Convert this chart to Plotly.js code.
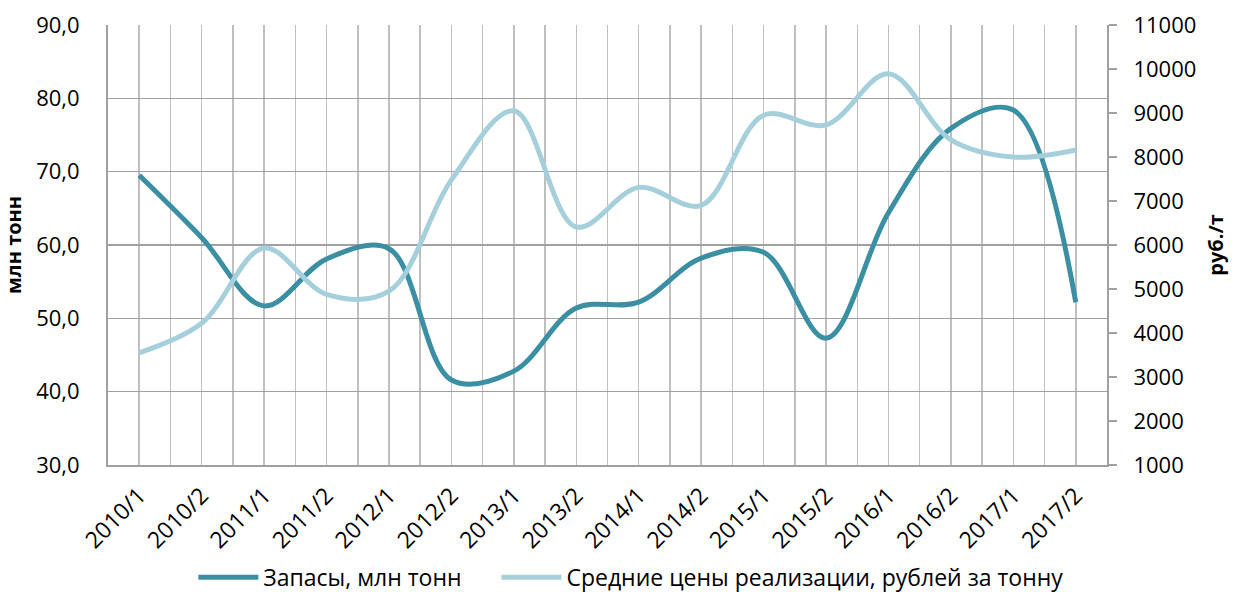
<!DOCTYPE html>
<html><head><meta charset="utf-8">
<script src="https://cdn.plot.ly/plotly-3.0.1.min.js"></script>
<style>html,body{margin:0;padding:0;background:#fff;}#chart{width:1237px;height:592px;}</style>
</head><body><div id="chart"></div>
<script>
const categories = ["2010/1","2010/2","2011/1","2011/2","2012/1","2012/2","2013/1","2013/2","2014/1","2014/2","2015/1","2015/2","2016/1","2016/2","2017/1","2017/2"];
const stocks = [69.5, 61.0, 51.7, 58.1, 59.5, 41.6, 42.8, 51.4, 52.2, 58.2, 59.0, 47.3, 64.4, 75.9, 78.4, 52.2];
const prices = [3550, 4220, 5930, 4880, 4950, 7480, 9050, 6410, 7310, 6900, 8950, 8730, 9890, 8390, 8000, 8160];
const leftTicks = [30,40,50,60,70,80,90];
const rightTicks = [1000,2000,3000,4000,5000,6000,7000,8000,9000,10000,11000];
const seriesNames = ["Запасы, млн тонн", "Средние цены реализации, рублей за тонну"];

const idx = categories.map((c,i)=>i);
const font = {family: "Open Sans, Lato, sans-serif", size: 22, color: "#000"};
const pad = "\u00a0\u00a0\u00a0\u00a0\u00a0";

const traces = [
  {x: idx, y: stocks, name: seriesNames[0] + pad, type: "scatter", mode: "lines",
   line: {color: "#3a8fa3", width: 5, shape: "spline", smoothing: 1}, yaxis: "y"},
  {x: idx, y: prices, name: seriesNames[1], type: "scatter", mode: "lines",
   line: {color: "#a6cfdc", width: 5, shape: "spline", smoothing: 1}, yaxis: "y2"}
];

const layout = {
  width: 1237, height: 592,
  margin: {l: 108, r: 130, t: 25, b: 127},
  paper_bgcolor: "#fff", plot_bgcolor: "#fff",
  font: font,
  separators: ", ",
  showlegend: true,
  legend: {orientation: "h", x: 0.51, xref: "container", xanchor: "center", y: 0.025, yref: "container",
           yanchor: "middle", font: {family: font.family, size: 23, color: "#000"}, itemwidth: 60, traceorder: "normal"},
  xaxis: {
    type: "linear", range: [-0.5, categories.length - 0.5],
    tickmode: "array", tickvals: idx, ticktext: categories, tickangle: -45,
    showgrid: true, gridcolor: "#bfbfbf", gridwidth: 1.5,
    minor: {tickmode: "array", tickvals: idx.map(i=>i-0.5).concat([categories.length-0.5]), showgrid: true, gridcolor: "#bfbfbf", gridwidth: 1.5, ticks: ""},
    showline: true, linecolor: "#a0a0a0", linewidth: 2, mirror: false,
    ticks: "", zeroline: false, tickfont: {family: font.family, size: 23, color: "#000"}, ticklabelstandoff: 6, fixedrange: true
  },
  yaxis: {
    range: [30, 90], tickmode: "array", tickvals: leftTicks, tickformat: ".1f",
    showgrid: true, gridcolor: "#a0a0a0", gridwidth: 1.5,
    showline: true, linecolor: "#a0a0a0", linewidth: 2, ticks: "", zeroline: false,
    tickfont: font, ticklabelstandoff: 22,
    title: {text: "<b>млн тонн</b>", font: {family: font.family, size: 20, color: "#000"}, standoff: 10}
  },
  yaxis2: {
    overlaying: "y", side: "right", range: [1000, 11000], tickmode: "array", tickvals: rightTicks, tickformat: "d",
    showgrid: false, showline: true, linecolor: "#a0a0a0", linewidth: 2,
    ticks: "outside", ticklen: 8, tickwidth: 2, tickcolor: "#a0a0a0", zeroline: false,
    tickfont: font, ticklabelstandoff: 12,
    title: {text: "<b>руб./т</b>", font: {family: font.family, size: 20, color: "#000"}, standoff: 14}
  }
};

Plotly.newPlot("chart", traces, layout, {staticPlot: true, displayModeBar: false});
</script>
</body></html>
